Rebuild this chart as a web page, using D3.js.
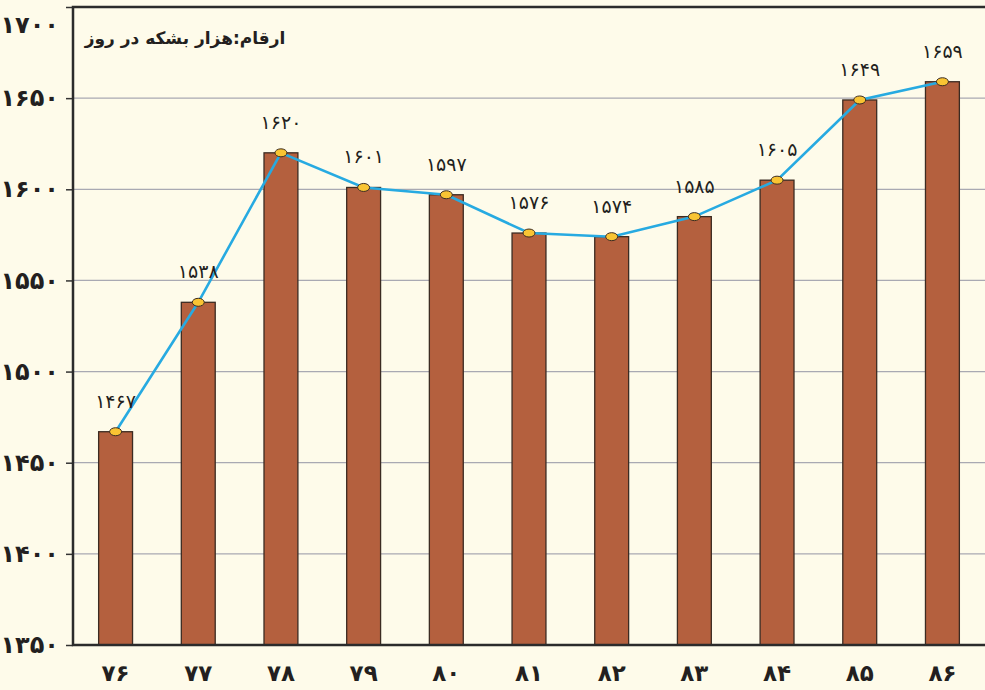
<!DOCTYPE html>
<html>
<head>
<meta charset="utf-8">
<script src="https://cdn.jsdelivr.net/npm/d3@7"></script>
<style>
	body { margin: 0; background: #fefbea; }
	svg { display: block; }
</style>
</head>
<body>
<div id="chart"></div>
<script>
// years (persian calendar) and output in thousand barrels per day
const years = [76, 77, 78, 79, 80, 81, 82, 83, 84, 85, 86];
const output = [1467, 1538, 1620, 1601, 1597, 1576, 1574, 1585, 1605, 1649, 1659];
const yTicks = [1350, 1400, 1450, 1500, 1550, 1600, 1650, 1700];
const title = "ارقام:هزار بشکه در روز";

const width = 985, height = 690;
const margin = { top: 7, right: 0, bottom: 45, left: 73 };

// latin digits -> persian digits
const fa = n => String(n).replace(/\d/g, d => "۰۱۲۳۴۵۶۷۸۹"[d]);

const svg = d3.select("#chart").append("svg")
	.attr("width", width)
	.attr("height", height);

svg.append("rect")
	.attr("width", width)
	.attr("height", height)
	.attr("fill", "#fefbea");

const x = d3.scaleBand()
	.domain(years)
	.range([margin.left, width - margin.right])
	.paddingInner(0.59)
	.paddingOuter(0.31);

const y = d3.scaleLinear()
	.domain([1350, 1700])
	.range([height - margin.bottom, margin.top]);

// gridlines
svg.append("g")
	.selectAll("line")
	.data(yTicks.slice(1, -1))
	.join("line")
	.attr("x1", margin.left)
	.attr("x2", width)
	.attr("y1", d => y(d))
	.attr("y2", d => y(d))
	.attr("stroke", "#a9a9b2")
	.attr("stroke-width", 1.2);

// y axis
const yAxis = d3.axisLeft(y)
	.tickValues(yTicks)
	.tickSize(7)
	.tickPadding(7)
	.tickFormat(fa);

svg.append("g")
	.attr("transform", `translate(${margin.left},0)`)
	.call(yAxis)
	.call(g => g.select(".domain").remove())
	.call(g => g.selectAll(".tick line").attr("stroke", "#333").attr("stroke-width", 1.5))
	.call(g => g.selectAll(".tick text")
		.attr("font-family", "DejaVu Sans")
		.attr("font-size", 24)
		.attr("font-weight", "bold")
		.attr("letter-spacing", -0.5)
		.attr("fill", "#231f20")
		// top label sits below its tick so it is not cut off
		.attr("dy", d => d == 1700 ? "1.05em" : "0.32em"));

// bars
svg.append("g")
	.selectAll("rect")
	.data(output)
	.join("rect")
	.attr("x", (d, i) => x(years[i]))
	.attr("y", d => y(d))
	.attr("width", x.bandwidth())
	.attr("height", d => y(1350) - y(d))
	.attr("fill", "#b4603e")
	.attr("stroke", "#3b2b22")
	.attr("stroke-width", 1.3);

// frame: left, top, bottom
svg.append("path")
	.attr("d", `M${width},${margin.top}H${margin.left}V${height - margin.bottom}H${width}`)
	.attr("fill", "none")
	.attr("stroke", "#2b2b2b")
	.attr("stroke-width", 2.5);

// x labels
svg.append("g")
	.selectAll("text")
	.data(years)
	.join("text")
	.attr("x", d => x(d) + x.bandwidth() / 2)
	.attr("y", 681)
	.attr("text-anchor", "middle")
	.attr("font-family", "DejaVu Sans")
	.attr("font-size", 23)
	.attr("font-weight", "bold")
	.attr("fill", "#231f20")
	.text(fa);

// line
const line = d3.line()
	.x((d, i) => x(years[i]) + x.bandwidth() / 2)
	.y(d => y(d));

svg.append("path")
	.datum(output)
	.attr("d", line)
	.attr("fill", "none")
	.attr("stroke", "#27aae1")
	.attr("stroke-width", 2.6);

// markers
svg.append("g")
	.selectAll("ellipse")
	.data(output)
	.join("ellipse")
	.attr("cx", (d, i) => x(years[i]) + x.bandwidth() / 2)
	.attr("cy", d => y(d))
	.attr("rx", 6)
	.attr("ry", 4)
	.attr("fill", "#f9c433")
	.attr("stroke", "#3b2b22")
	.attr("stroke-width", 1);

// value labels
svg.append("g")
	.selectAll("text")
	.data(output)
	.join("text")
	.attr("x", (d, i) => x(years[i]) + x.bandwidth() / 2)
	.attr("y", d => y(d) - 24)
	.attr("text-anchor", "middle")
	.attr("font-family", "DejaVu Sans")
	.attr("font-size", 19)
	.attr("fill", "#231f20")
	.text(fa);

// title
svg.append("text")
	.attr("x", 185)
	.attr("y", 44)
	.attr("text-anchor", "middle")
	.attr("font-family", "DejaVu Sans")
	.attr("font-size", 17)
	.attr("font-weight", "bold")
	.attr("fill", "#231f20")
	.text(title);
</script>
</body>
</html>
